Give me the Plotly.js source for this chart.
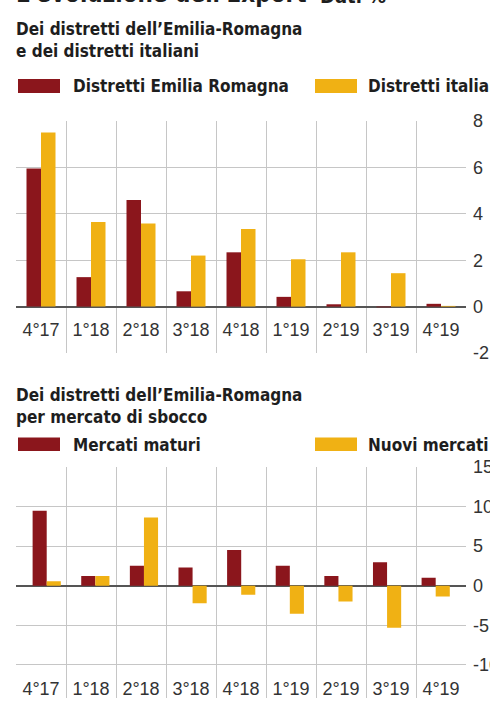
<!DOCTYPE html>
<html>
<head>
<meta charset="utf-8">
<script src="https://cdn.plot.ly/plotly-3.0.1.min.js"></script>
<style>html,body{margin:0;padding:0;background:#fff;}#chart{width:490px;height:703px;}</style>
</head>
<body>
<div id="chart"></div>
<script>
// ---- data ----
const quarters = ["4°17","1°18","2°18","3°18","4°18","1°19","2°19","3°19","4°19"];
const seriesTopNames = ["Distretti Emilia Romagna", "Distretti italiani"];
const emiliaRomagna = [5.95, 1.27, 4.6, 0.66, 2.34, 0.42, 0.1, -0.03, 0.12];
const italiani      = [7.5, 3.65, 3.58, 2.2, 3.35, 2.04, 2.34, 1.44, 0.03];
const seriesBottomNames = ["Mercati maturi", "Nuovi mercati"];
const mercatiMaturi = [9.45, 1.22, 2.52, 2.3, 4.5, 2.52, 1.22, 2.94, 1.0];
const nuoviMercati  = [0.55, 1.22, 8.6, -2.23, -1.13, -3.53, -2.0, -5.3, -1.35];
const topTicks = [-2, 0, 2, 4, 6, 8];
const bottomTicks = [-10, -5, 0, 5, 10, 15];
const pageTitle = "L'evoluzione dell'Export";
const pageTitleUnit = "Dati %";
const subtitleTop = ["Dei distretti dell’Emilia-Romagna", "e dei distretti italiani"];
const subtitleBottom = ["Dei distretti dell’Emilia-Romagna", "per mercato di sbocco"];

// ---- style ----
const W = 490, H = 703;
const RED = "#8B161C", YELLOW = "#F0B114";
const GRID = "#c6c6c6", ZERO = "#555555";
const BOLD = "DejaVu Sans Condensed, Liberation Sans Narrow, sans-serif";
const REG = "Liberation Sans Narrow, Arial Narrow, sans-serif";
const TXT = "#1e1e1e";
const px = x => x / W;
const py = y => 1 - y / H;

const topLabelY = -1.08, bottomLabelY = -13.2;

const traces = [
  {type:"bar", x:quarters, y:emiliaRomagna, name:seriesTopNames[0], xaxis:"x", yaxis:"y",
   marker:{color:RED, line:{width:0}}, hoverinfo:"y"},
  {type:"bar", x:quarters, y:italiani, name:seriesTopNames[1], xaxis:"x", yaxis:"y",
   marker:{color:YELLOW, line:{width:0}}, hoverinfo:"y"},
  {type:"scatter", mode:"text", x:quarters, y:quarters.map(()=>topLabelY), text:quarters,
   xaxis:"x", yaxis:"y", textfont:{family:REG, size:18, color:"#333"}, hoverinfo:"skip"},
  {type:"scatter", mode:"text", x:quarters, y:quarters.map(()=>bottomLabelY), text:quarters,
   xaxis:"x2", yaxis:"y2", textfont:{family:REG, size:18, color:"#333"}, hoverinfo:"skip"},
  {type:"bar", x:quarters, y:mercatiMaturi, name:seriesBottomNames[0], xaxis:"x3", yaxis:"y3",
   marker:{color:RED, line:{width:0}}, hoverinfo:"y"},
  {type:"bar", x:quarters, y:nuoviMercati, name:seriesBottomNames[1], xaxis:"x3", yaxis:"y3",
   marker:{color:YELLOW, line:{width:0}}, hoverinfo:"y"}
];

const xDomain = [px(16), px(466)];
const catAxis = (domain, anchor, grid) => ({
  type:"category", domain:domain, anchor:anchor, range:[-0.5, 8.5],
  categoryarray:quarters, showticklabels:false, ticks:"",
  tickson:"boundaries", showgrid:grid, gridcolor:GRID, gridwidth:1,
  showline:false, zeroline:false, fixedrange:true
});
const valAxis = (domain, range, ticks, anchor) => ({
  domain:domain, range:range, side:"right", anchor:anchor,
  tickvals:ticks, ticktext:ticks.map(String), ticks:"",
  ticklabelstandoff:6, tickfont:{family:REG, size:18, color:"#333"},
  showgrid:true, gridcolor:GRID, gridwidth:1,
  zeroline:true, zerolinecolor:ZERO, zerolinewidth:2, showline:false, fixedrange:true
});

const textAnn = (x, y, text, size, yanchor, family) => ({
  xref:"paper", yref:"paper", x:px(x), y:py(y), xanchor:"left", yanchor:yanchor,
  showarrow:false, align:"left", text:text, font:{family:family || BOLD, size:size, color:TXT}
});
const b = s => "<b>" + s + "</b>";

const layout = {
  width:W, height:H, margin:{l:0,r:0,t:0,b:0},
  paper_bgcolor:"#fff", plot_bgcolor:"rgba(0,0,0,0)",
  showlegend:false, barmode:"group", bargap:0.42, bargroupgap:0,
  xaxis: catAxis(xDomain, "y", true),
  yaxis: valAxis([py(353), py(121)], [-2, 8], topTicks, "x"),
  xaxis2: catAxis(xDomain, "y2", true),
  yaxis2: valAxis([py(698.3), py(466.7)], [-14.2, 15], bottomTicks, "x2"),
  xaxis3: catAxis([px(22.4), px(460)], "y3", false),
  yaxis3: {domain:[py(698.3), py(466.7)], range:[-14.2, 15], anchor:"x3", visible:false,
    showgrid:false, zeroline:false, fixedrange:true},
  shapes: [
    {type:"rect", xref:"paper", yref:"paper", x0:px(18), x1:px(60), y0:py(93), y1:py(79), fillcolor:RED, line:{width:0}},
    {type:"rect", xref:"paper", yref:"paper", x0:px(315), x1:px(357), y0:py(93), y1:py(79), fillcolor:YELLOW, line:{width:0}},
    {type:"rect", xref:"paper", yref:"paper", x0:px(18), x1:px(60), y0:py(451), y1:py(437.5), fillcolor:RED, line:{width:0}},
    {type:"rect", xref:"paper", yref:"paper", x0:px(315), x1:px(357), y0:py(451), y1:py(437.5), fillcolor:YELLOW, line:{width:0}}
  ],
  annotations: [
    textAnn(14, 10, b(pageTitle), 24, "bottom"),
    textAnn(318, 10, b(pageTitleUnit), 20, "bottom"),
    textAnn(14, 17, subtitleTop.map(b).join("<br>"), 17, "top"),
    textAnn(71, 86, b(seriesTopNames[0]), 17, "middle"),
    textAnn(366, 86, b(seriesTopNames[1]), 17, "middle"),
    textAnn(14, 383, subtitleBottom.map(b).join("<br>"), 17, "top"),
    textAnn(71, 445, b(seriesBottomNames[0]), 17, "middle"),
    textAnn(366, 445, b(seriesBottomNames[1]), 17, "middle")
  ]
};

Plotly.newPlot("chart", traces, layout, {displayModeBar:false, staticPlot:true});
</script>
</body>
</html>
